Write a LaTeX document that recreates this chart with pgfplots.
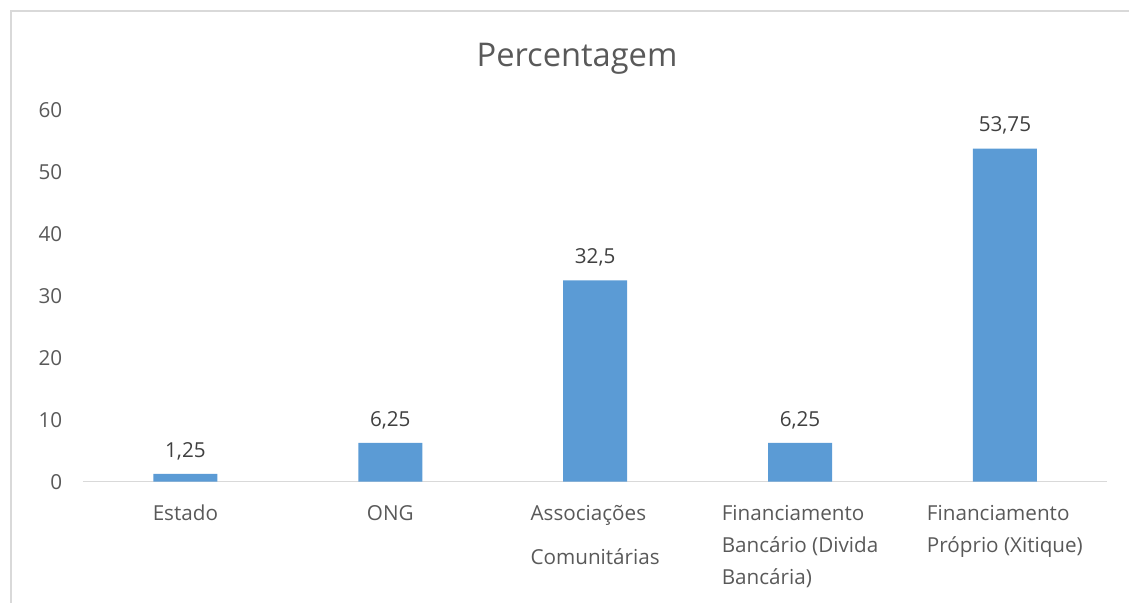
\documentclass[border=0pt]{standalone}
\usepackage{pgfplots}
\pgfplotsset{compat=1.18}
\usepackage{fontspec}
\setmainfont{Open Sans}
\definecolor{barblue}{HTML}{5B9BD5}
\definecolor{txtgray}{HTML}{595959}
\definecolor{lblgray}{HTML}{404040}
\definecolor{axgray}{HTML}{D9D9D9}
\begin{document}
\begin{tikzpicture}
\path (0,0) rectangle (847.5pt,452.25pt);
\draw[color=axgray, line width=1pt] (8.25pt,0) -- (8.25pt,444pt) -- (847.5pt,444pt);
\node[color=txtgray, font=\fontsize{24.5}{29}\selectfont] at (433pt,408pt) {Percentagem};
\begin{axis}[
  at={(62.25pt,90.75pt)}, anchor=south west,
  scale only axis, width=768.75pt, height=279pt,
  xmin=-0.5, xmax=4.5, ymin=0, ymax=60,
  ytick={0,10,...,60},
  xtick={0,1,2,3,4},
  xticklabels={Estado, ONG, {Associações\\[9pt]Comunitárias}, {Financiamento\\Bancário (Divida\\Bancária)}, {Financiamento\\Próprio (Xitique)}},
  xticklabel style={align=left, font=\fontsize{15.5}{24}\selectfont, color=txtgray, anchor=north, yshift=-14pt},
  yticklabel style={font=\fontsize{15.5}{18}\selectfont, color=txtgray, xshift=-12pt},
  /pgf/number format/assume math mode=true,
  axis line style={draw=none},
  major tick length=0pt,
  ybar, bar width=48pt,
  nodes near coords,
  nodes near coords style={font=\fontsize{15.5}{18}\selectfont, color=lblgray, /pgf/number format/use comma, yshift=7pt},
  clip=false,
]
\draw[color=axgray, line width=1pt] (axis cs:-0.5,0) -- (axis cs:4.5,0);
\addplot[fill=barblue, draw=none] coordinates {(0,1.25) (1,6.25) (2,32.5) (3,6.25) (4,53.75)};
\end{axis}
\end{tikzpicture}
\end{document}
